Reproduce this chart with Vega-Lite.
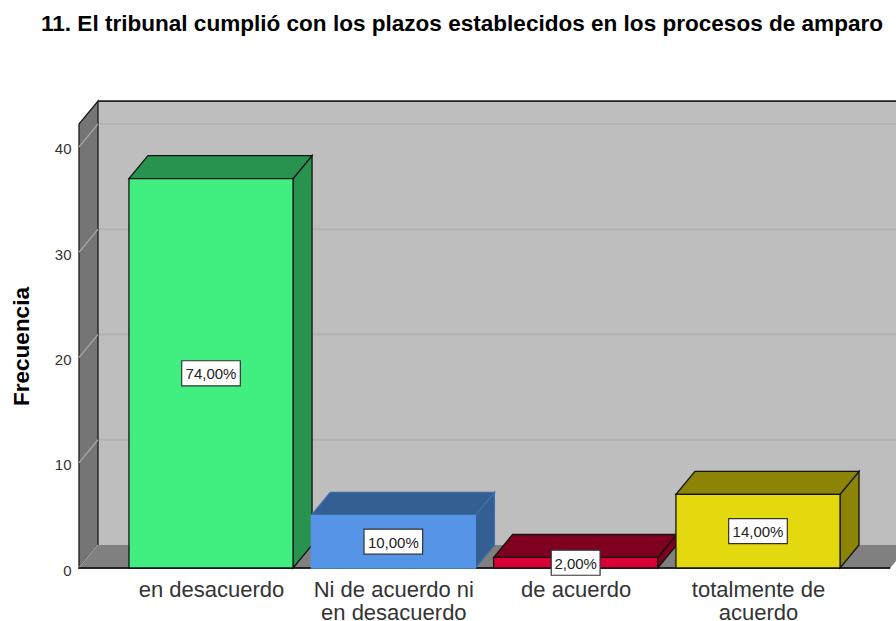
{
"$schema":"https://vega.github.io/schema/vega-lite/v6.json",
"width":817,"height":467,
"autosize":{"type":"none"},
"padding":{"left":79,"top":101,"right":0,"bottom":53},
"background":"white",
"config":{"font":"Liberation Sans","view":{"stroke":null}},
"title":{"text":"11. El tribunal cumplió con los plazos establecidos en los procesos de amparo","anchor":"start","frame":"group","dx":-38,"offset":63,"fontSize":22.55,"fontWeight":"bold","color":"#000000","font":"Liberation Sans"},
"resolve":{"scale":{"fill":"independent","stroke":"independent"},"axis":{"x":"independent","y":"independent"}},
"datasets":{
"barras":[
{"categoria":"en desacuerdo","orden":0,"frecuencia":37,"porcentaje":"74,00%"},
{"categoria":"Ni de acuerdo ni en desacuerdo","orden":1,"frecuencia":5,"porcentaje":"10,00%"},
{"categoria":"de acuerdo","orden":2,"frecuencia":1,"porcentaje":"2,00%"},
{"categoria":"totalmente de acuerdo","orden":3,"frecuencia":7,"porcentaje":"14,00%"}
],
"marcas":[{"tick":0},{"tick":10},{"tick":20},{"tick":30},{"tick":40}],
"prof":[{"t":0},{"t":1}]
},
"layer":[
{"data":{"name":"prof"},
 "transform":[{"calculate":"-0.724+0.1042","as":"a"},{"calculate":"4","as":"b"}],
 "mark":{"type":"rect","fill":"#bebebe"},
 "encoding":{
  "x":{"field":"a","type":"quantitative","scale":{"domain":[-0.724,3.757],"nice":false,"zero":false},
   "axis":{"values":[0,1,2,3],"title":null,"domain":false,"ticks":false,"grid":false,"labelFontSize":22,"labelColor":"#333333","labelPadding":11,"labelLineHeight":23,"labelAngle":0,"labelBaseline":"top","labelFlush":false,"labelOverlap":false,
    "labelExpr":"[['en desacuerdo'],['Ni de acuerdo ni','en desacuerdo'],['de acuerdo'],['totalmente de','acuerdo']][datum.value]"}},
  "x2":{"field":"b"},
  "y":{"datum":2.185,"type":"quantitative","scale":{"domain":[0,44.37],"nice":false,"zero":false},
   "axis":{"values":[0,10,20,30,40],"title":"Frecuencia","titleFontSize":22.5,"titleFontWeight":"bold","titleColor":"#000000","titlePadding":21,"titleY":245,"domain":false,"ticks":false,"grid":false,"labelFontSize":15,"labelColor":"#333333","labelPadding":8,"labelOffset":2}},
  "y2":{"datum":44.37}
 }},
{"data":{"name":"prof"},
 "transform":[{"calculate":"datum.t*2.185","as":"yy"},{"calculate":"-0.724+datum.t*0.1042","as":"x0"},{"calculate":"3.725+datum.t*0.1042","as":"x1"}],
 "mark":{"type":"area","orient":"horizontal","fill":"#808080"},
 "encoding":{
  "y":{"field":"yy","type":"quantitative","scale":{"domain":[0,44.37],"nice":false,"zero":false},"axis":null},
  "x":{"field":"x0","type":"quantitative","scale":{"domain":[-0.724,3.757],"nice":false,"zero":false},"axis":null},
  "x2":{"field":"x1"}
 }},
{"data":{"name":"marcas"},
 "transform":[{"filter":"datum.tick>0"},{"calculate":"datum.tick+2.185","as":"yb"},{"calculate":"-0.6198","as":"a"},{"calculate":"4","as":"b"}],
 "mark":{"type":"rule","stroke":"#b2b2b2","strokeWidth":2},
 "encoding":{
  "y":{"field":"yb","type":"quantitative","scale":{"domain":[0,44.37],"nice":false,"zero":false},"axis":null},
  "x":{"field":"a","type":"quantitative","scale":{"domain":[-0.724,3.757],"nice":false,"zero":false},"axis":null},
  "x2":{"field":"b"}
 }},
{"data":{"name":"prof"},
 "transform":[{"calculate":"-0.724+datum.t*0.1042","as":"xw"},{"calculate":"datum.t*2.185","as":"y0"},{"calculate":"42.18+datum.t*2.185","as":"y1"}],
 "mark":{"type":"area","fill":"#757575","stroke":"#1a1a1a","strokeWidth":1.3},
 "encoding":{
  "x":{"field":"xw","type":"quantitative","scale":{"domain":[-0.724,3.757],"nice":false,"zero":false},"axis":null},
  "y":{"field":"y0","type":"quantitative","scale":{"domain":[0,44.37],"nice":false,"zero":false},"axis":null},
  "y2":{"field":"y1"}
 }},
{"data":{"name":"marcas"},
 "transform":[{"calculate":"-0.724","as":"a"},{"calculate":"-0.6198","as":"b"},{"calculate":"datum.tick+2.185","as":"yb"}],
 "mark":{"type":"rule","stroke":"#a6a6a6","strokeWidth":1.2},
 "encoding":{
  "x":{"field":"a","type":"quantitative","scale":{"domain":[-0.724,3.757],"nice":false,"zero":false},"axis":null},
  "x2":{"field":"b"},
  "y":{"field":"tick","type":"quantitative","scale":{"domain":[0,44.37],"nice":false,"zero":false},"axis":null},
  "y2":{"field":"yb"}
 }},
{"data":{"name":"prof"},
 "transform":[{"calculate":"-0.6198","as":"a"},{"calculate":"4","as":"b"}],
 "mark":{"type":"rule","stroke":"#1a1a1a","strokeWidth":1.3},
 "encoding":{
  "x":{"field":"a","type":"quantitative","scale":{"domain":[-0.724,3.757],"nice":false,"zero":false},"axis":null},
  "x2":{"field":"b"},
  "y":{"datum":44.365,"type":"quantitative","scale":{"domain":[0,44.37],"nice":false,"zero":false},"axis":null}
 }},
{"data":{"name":"prof"},
 "transform":[{"calculate":"-0.724","as":"a"},{"calculate":"3.725","as":"b"}],
 "mark":{"type":"rule","stroke":"#1a1a1a","strokeWidth":1.5},
 "encoding":{
  "x":{"field":"a","type":"quantitative","scale":{"domain":[-0.724,3.757],"nice":false,"zero":false},"axis":null},
  "x2":{"field":"b"},
  "y":{"datum":0,"type":"quantitative","scale":{"domain":[0,44.37],"nice":false,"zero":false},"axis":null}
 }},
{"data":{"name":"barras"},
 "transform":[{"calculate":"0","as":"p0"},{"calculate":"1","as":"p1"},{"fold":["p0","p1"],"as":["k","t"]},
  {"calculate":"datum.orden+0.45+datum.t*0.1042","as":"xs"},{"calculate":"datum.t*2.185","as":"y0"},{"calculate":"datum.frecuencia+datum.t*2.185","as":"y1"}],
 "mark":{"type":"area","strokeWidth":1.3},
 "encoding":{
  "x":{"field":"xs","type":"quantitative","scale":{"domain":[-0.724,3.757],"nice":false,"zero":false},"axis":null},
  "y":{"field":"y0","type":"quantitative","scale":{"domain":[0,44.37],"nice":false,"zero":false},"axis":null},
  "y2":{"field":"y1"},
  "fill":{"field":"categoria","type":"nominal","legend":null,"scale":{"domain":["en desacuerdo","Ni de acuerdo ni en desacuerdo","de acuerdo","totalmente de acuerdo"],"range":["#28924f","#345f93","#800020","#8c8407"]}},
  "stroke":{"field":"categoria","type":"nominal","legend":null,"scale":{"domain":["en desacuerdo","Ni de acuerdo ni en desacuerdo","de acuerdo","totalmente de acuerdo"],"range":["#141414","#3f6da6","#141414","#141414"]}}
 }},
{"data":{"name":"barras"},
 "transform":[{"calculate":"0","as":"p0"},{"calculate":"1","as":"p1"},{"fold":["p0","p1"],"as":["k","t"]},
  {"calculate":"datum.frecuencia+datum.t*2.185","as":"yt"},{"calculate":"datum.orden-0.45+datum.t*0.1042","as":"x0"},{"calculate":"datum.orden+0.45+datum.t*0.1042","as":"x1"}],
 "mark":{"type":"area","orient":"horizontal","strokeWidth":1.3},
 "encoding":{
  "y":{"field":"yt","type":"quantitative","scale":{"domain":[0,44.37],"nice":false,"zero":false},"axis":null},
  "x":{"field":"x0","type":"quantitative","scale":{"domain":[-0.724,3.757],"nice":false,"zero":false},"axis":null},
  "x2":{"field":"x1"},
  "fill":{"field":"categoria","type":"nominal","legend":null,"scale":{"domain":["en desacuerdo","Ni de acuerdo ni en desacuerdo","de acuerdo","totalmente de acuerdo"],"range":["#28924f","#345f93","#800020","#8c8407"]}},
  "stroke":{"field":"categoria","type":"nominal","legend":null,"scale":{"domain":["en desacuerdo","Ni de acuerdo ni en desacuerdo","de acuerdo","totalmente de acuerdo"],"range":["#141414","#3f6da6","#141414","#141414"]}}
 }},
{"data":{"name":"barras"},
 "transform":[{"calculate":"datum.orden-0.45","as":"x0"},{"calculate":"datum.orden+0.45","as":"x1"},{"calculate":"0","as":"y0"}],
 "mark":{"type":"rect","strokeWidth":1.3},
 "encoding":{
  "x":{"field":"x0","type":"quantitative","scale":{"domain":[-0.724,3.757],"nice":false,"zero":false},"axis":null},
  "x2":{"field":"x1"},
  "y":{"field":"frecuencia","type":"quantitative","scale":{"domain":[0,44.37],"nice":false,"zero":false},"axis":null},
  "y2":{"field":"y0"},
  "fill":{"field":"categoria","type":"nominal","legend":null,"scale":{"domain":["en desacuerdo","Ni de acuerdo ni en desacuerdo","de acuerdo","totalmente de acuerdo"],"range":["#41ee80","#5594e6","#db0033","#e4d90e"]}},
  "stroke":{"field":"categoria","type":"nominal","legend":null,"scale":{"domain":["en desacuerdo","Ni de acuerdo ni en desacuerdo","de acuerdo","totalmente de acuerdo"],"range":["#141414","#5594e6","#141414","#141414"]}}
 }},
{"data":{"name":"barras"},
 "transform":[{"calculate":"length(datum.porcentaje)*0.0268","as":"hw"},{"calculate":"datum.orden-datum.hw","as":"x0"},{"calculate":"datum.orden+datum.hw","as":"x1"},{"calculate":"datum.frecuencia/2-1.19","as":"y0"},{"calculate":"datum.frecuencia/2+1.19","as":"y1"}],
 "mark":{"type":"rect","fill":"#ffffff","stroke":"#333333","strokeWidth":1.2},
 "encoding":{
  "x":{"field":"x0","type":"quantitative","scale":{"domain":[-0.724,3.757],"nice":false,"zero":false},"axis":null},
  "x2":{"field":"x1"},
  "y":{"field":"y0","type":"quantitative","scale":{"domain":[0,44.37],"nice":false,"zero":false},"axis":null},
  "y2":{"field":"y1"}
 }},
{"data":{"name":"barras"},
 "transform":[{"calculate":"datum.frecuencia/2","as":"ym"}],
 "mark":{"type":"text","fontSize":15,"color":"#222222","align":"center","baseline":"middle","dy":1},
 "encoding":{
  "x":{"field":"orden","type":"quantitative","scale":{"domain":[-0.724,3.757],"nice":false,"zero":false},"axis":null},
  "y":{"field":"ym","type":"quantitative","scale":{"domain":[0,44.37],"nice":false,"zero":false},"axis":null},
  "text":{"field":"porcentaje"}
 }}
]
}
